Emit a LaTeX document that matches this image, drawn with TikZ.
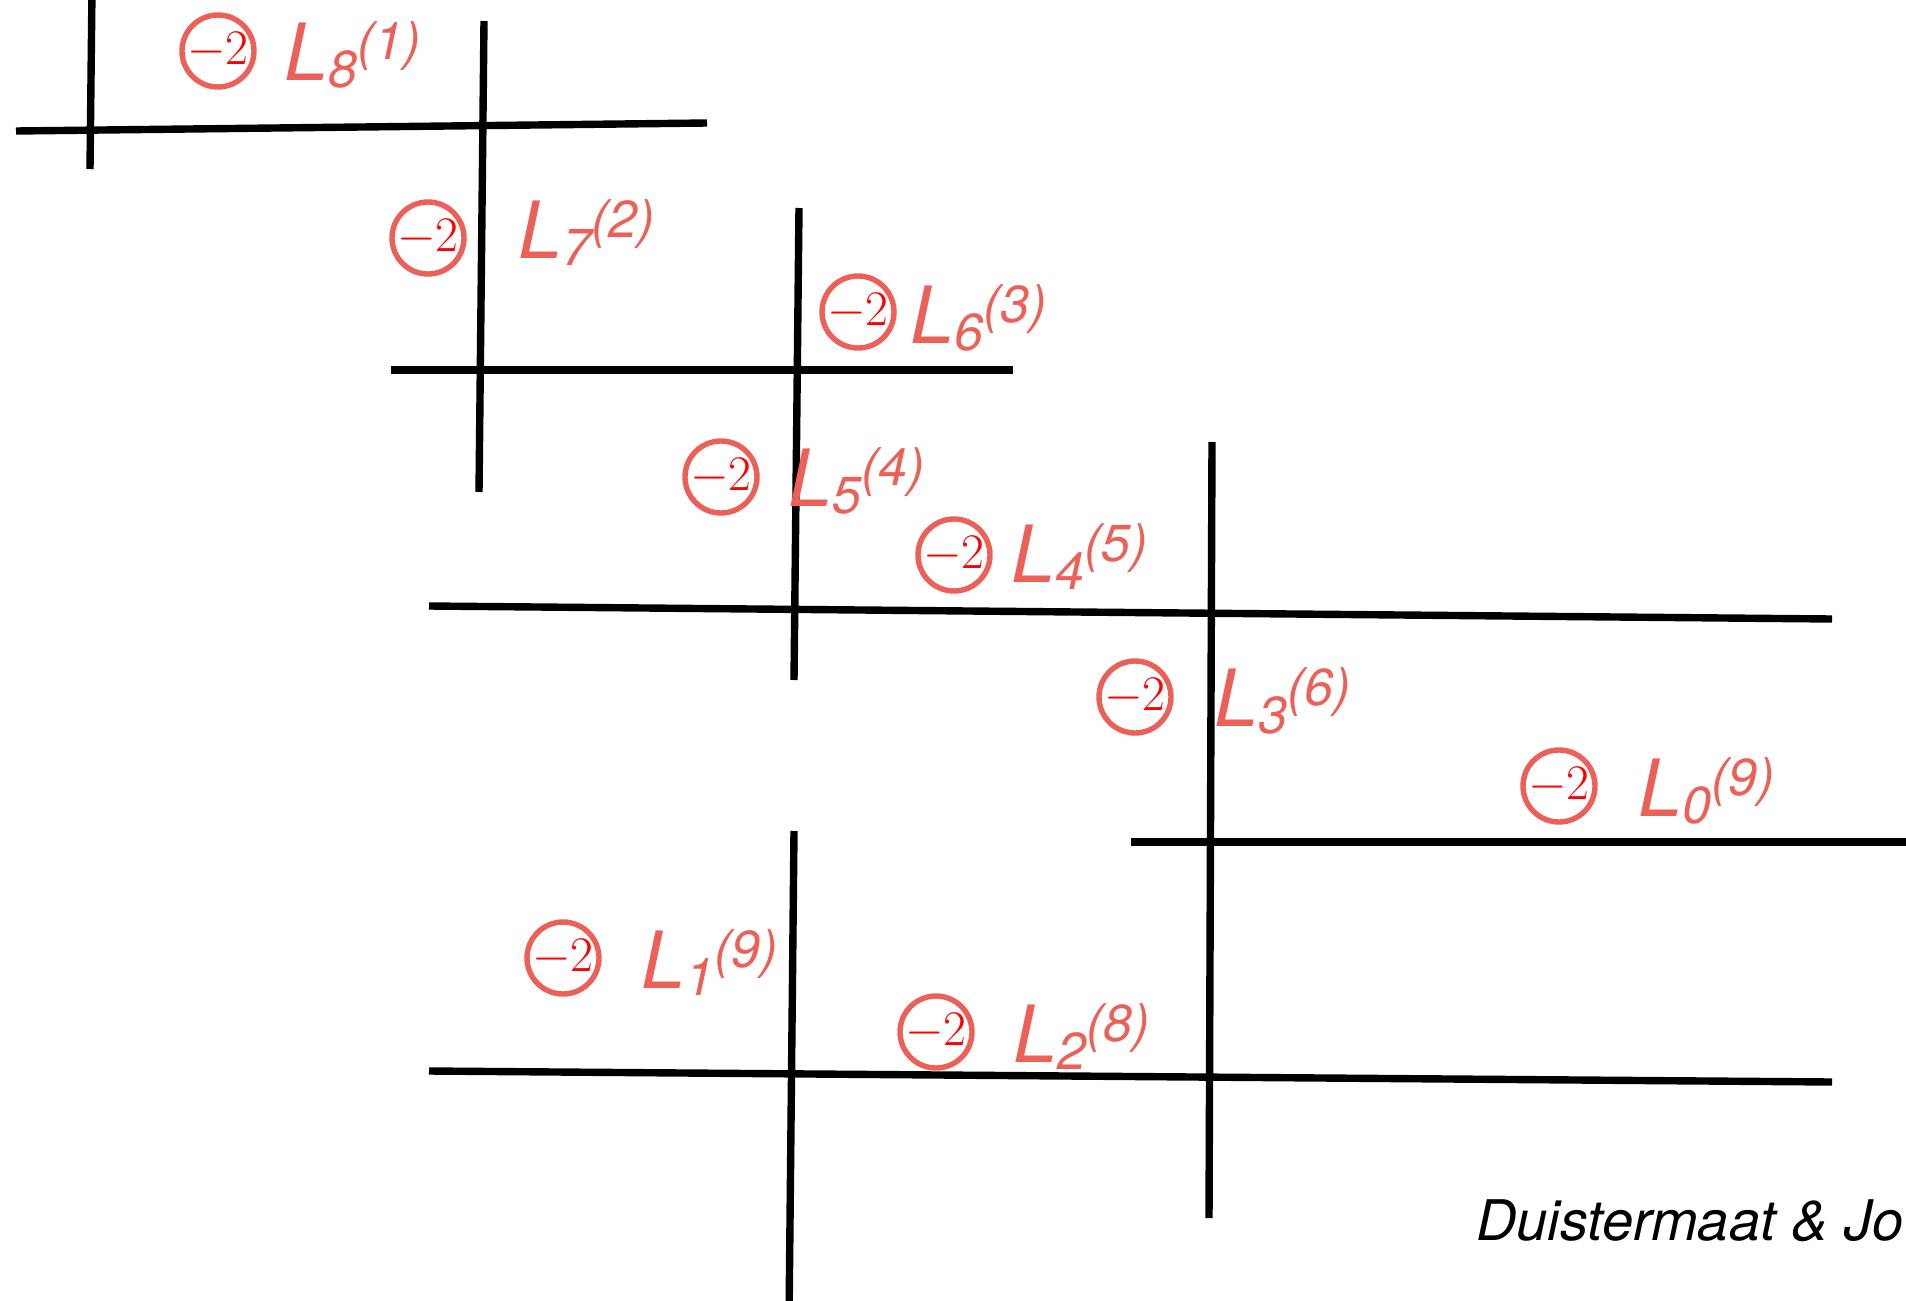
\documentclass[tikz,border=0pt]{standalone}
\usepackage{fontspec}
\newfontfamily\helv{TeX Gyre Heros}
\definecolor{salmon}{RGB}{236,96,88}
\definecolor{pured}{RGB}{255,0,0}
\newcommand{\lbl}[2]{{\helv\itshape\fontsize{39.5}{40}\selectfont L\raisebox{-3.5pt}{\fontsize{26}{26}\selectfont #1}\raisebox{10.5pt}{\fontsize{26}{26}\selectfont(#2)}}}
\tikzset{
  curve/.style={line width=3.7pt, black},
  weight/.style={circle, draw=salmon, line width=2.7pt, minimum size=36pt, inner sep=0pt, text=pured, font=\fontsize{24}{24}\selectfont},
  lab/.style={anchor=base west, inner sep=0pt, text=salmon}
}
\begin{document}
\begin{tikzpicture}[x=0.5pt,y=-0.5pt]
\useasboundingbox (0,0) rectangle (1906,1301);
\clip (0,0) rectangle (1906,1301);
% line end points
\coordinate (v1a) at (92,-10);   \coordinate (v1b) at (90,169);
\coordinate (h1a) at (16,131);   \coordinate (h1b) at (707,123);
\coordinate (v2a) at (484,21);   \coordinate (v2b) at (479,492);
\coordinate (h2a) at (391,370);  \coordinate (h2b) at (1013,370);
\coordinate (v3a) at (799,208);  \coordinate (v3b) at (794,680);
\coordinate (h3a) at (429,606);  \coordinate (h3b) at (1832,619);
\coordinate (v4a) at (1212,442); \coordinate (v4b) at (1209,1218);
\coordinate (h4a) at (1131,842); \coordinate (h4b) at (1920,842);
\coordinate (v5a) at (794,831);  \coordinate (v5b) at (789,1320);
\coordinate (h5a) at (429,1071); \coordinate (h5b) at (1832,1082);
\foreach \p in {v1,h1,v2,h2,v3,h3,v4,h4,v5,h5} \draw[curve] (\p a) -- (\p b);
% weights
\node[weight] (c8) at (218,51)  {$-2$};
\node[weight] (c7) at (428,238) {$-2$};
\node[weight] (c6) at (858,312) {$-2$};
\node[weight] (c5) at (721,477) {$-2$};
\node[weight] (c4) at (954,555) {$-2$};
\node[weight] (c3) at (1135,697) {$-2$};
\node[weight] (c0) at (1559,786) {$-2$};
\node[weight] (c1) at (563,958) {$-2$};
\node[weight] (c2) at (936,1032) {$-2$};
% labels
\node[lab] (l8) at (284,80)   {\lbl{8}{1}};
\node[lab] (l7) at (518,258)  {\lbl{7}{2}};
\node[lab] (l6) at (910,343)  {\lbl{6}{3}};
\node[lab] (l5) at (788,506)  {\lbl{5}{4}};
\node[lab] (l4) at (1011,582) {\lbl{4}{5}};
\node[lab] (l3) at (1214,726) {\lbl{3}{6}};
\node[lab] (l0) at (1638,816) {\lbl{0}{9}};
\node[lab] (l1) at (641,988)  {\lbl{1}{9}};
\node[lab] (l2) at (1013,1062) {\lbl{2}{8}};
% credit
\node[anchor=base west, inner sep=0pt, font=\helv\itshape\fontsize{28}{28}\selectfont] (credit) at (1476,1240) {Duistermaat \& Jo};
\end{tikzpicture}
\end{document}
